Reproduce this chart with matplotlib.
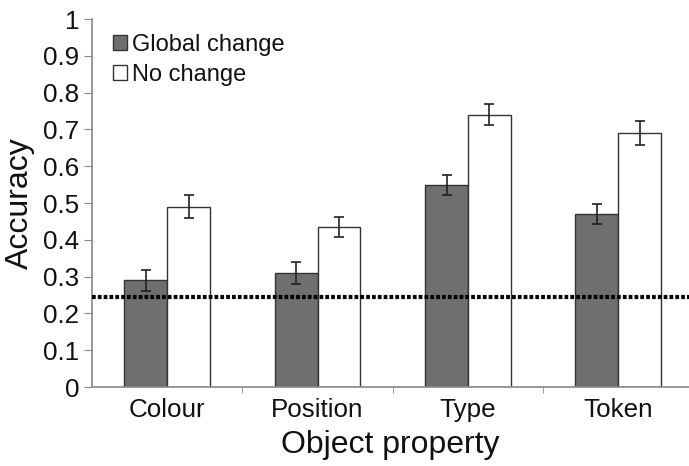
import matplotlib
matplotlib.use("Agg")
import matplotlib.pyplot as plt
import numpy as np

categories = ["Colour", "Position", "Type", "Token"]
global_change = [0.29, 0.31, 0.55, 0.47]
global_err = [0.028, 0.029, 0.027, 0.028]
no_change = [0.49, 0.435, 0.74, 0.69]
no_err = [0.031, 0.026, 0.028, 0.032]
chance = 0.245
yticks = [0, 0.1, 0.2, 0.3, 0.4, 0.5, 0.6, 0.7, 0.8, 0.9, 1]
ytick_labels = ["0", "0.1", "0.2", "0.3", "0.4", "0.5", "0.6", "0.7", "0.8", "0.9", "1"]

plt.rcParams['font.family'] = ['Liberation Sans', 'DejaVu Sans']

fig = plt.figure(figsize=(6.89, 4.66), dpi=100)
ax = fig.add_axes([0.1335, 0.1695, 0.8665, 0.7895])

x = np.arange(len(categories))
w = 0.285
ax.bar(x - w/2, global_change, w, color="#6f6f6f", edgecolor="#333333", linewidth=1.0,
       label="Global change", zorder=2)
ax.bar(x + w/2, no_change, w, color="white", edgecolor="#333333", linewidth=1.0,
       label="No change", zorder=2)
ax.errorbar(x - w/2, global_change, yerr=global_err, fmt="none", ecolor="#222222",
            elinewidth=1.2, capsize=3.8, capthick=1.2, zorder=3)
ax.errorbar(x + w/2, no_change, yerr=no_err, fmt="none", ecolor="#222222",
            elinewidth=1.2, capsize=3.8, capthick=1.2, zorder=3)

ax.axhline(chance, color="black", linewidth=3.0, linestyle=(0, (0.9, 0.5)), zorder=4)

ax.set_xlim(-0.5, 3.47)
ax.set_ylim(0, 1)
ax.set_yticks(yticks)
ax.set_yticklabels(ytick_labels, fontsize=18.7, color="#111111")
ax.set_xticks(x)
ax.set_xticklabels(categories, fontsize=18.7, color="#111111")
ax.tick_params(axis="x", which="major", length=0, pad=8)
ax.set_xticks([0.5, 1.5, 2.5], minor=True)
ax.tick_params(axis="x", which="minor", length=4, color="#888888", direction="out")
ax.tick_params(axis="y", length=6, color="#888888", pad=3)

for s in ["top", "right"]:
    ax.spines[s].set_visible(False)
for s in ["left", "bottom"]:
    ax.spines[s].set_color("#888888")
    ax.spines[s].set_linewidth(1.2)

ax.set_ylabel("Accuracy", fontsize=23, labelpad=6, color="#111111")
ax.set_xlabel("Object property", fontsize=23, labelpad=6, color="#111111")

leg = ax.legend(loc="upper left", bbox_to_anchor=(0.008, 1.005), frameon=False,
                fontsize=17, handlelength=0.6, handleheight=0.6, handletextpad=0.2,
                labelspacing=0.35, borderaxespad=0.3)
for t in leg.get_texts():
    t.set_color("#111111")

fig.savefig("out.png", dpi=100)
